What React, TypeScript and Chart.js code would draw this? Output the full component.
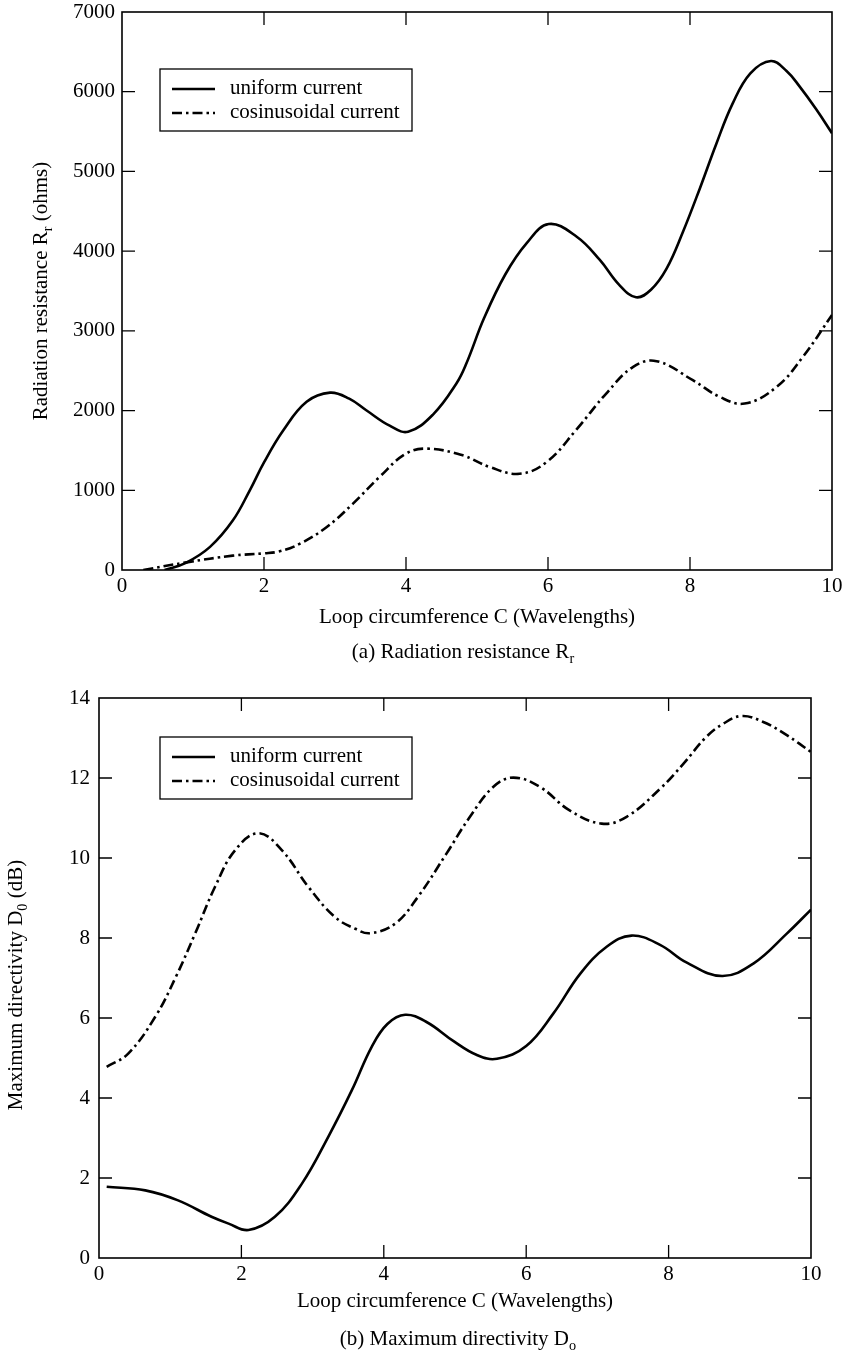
import React, { useEffect, useRef } from "react";
import { Chart, registerables } from "chart.js";
Chart.register(...registerables);

const FONT = '"Liberation Serif", "Times New Roman", Times, serif';

// ---- (a) Radiation resistance data ----
const xTicksA = [0, 2, 4, 6, 8, 10];
const rUniformX = [0.6, 0.9, 1.24, 1.56, 1.8, 2.0, 2.27, 2.6, 2.93, 3.2, 3.44, 3.77, 4.03, 4.38, 4.71, 4.85, 5.1, 5.4, 5.7, 6.01, 6.4, 6.73, 7.0, 7.24, 7.45, 7.67, 7.9, 8.14, 8.37, 8.6, 8.85, 9.14, 9.36, 9.54, 9.78, 10.0];
const rUniformY = [0, 90, 290, 620, 1000, 1350, 1750, 2110, 2225, 2150, 2004, 1810, 1735, 1950, 2340, 2590, 3160, 3710, 4100, 4340, 4184, 3890, 3580, 3421, 3515, 3780, 4240, 4790, 5345, 5850, 6230, 6385, 6260, 6070, 5777, 5480];
const rCosX = [0.3, 0.91, 1.56, 2.0, 2.22, 2.5, 2.88, 3.25, 3.63, 4.0, 4.3, 4.8, 5.18, 5.6, 5.98, 6.4, 6.82, 7.2, 7.53, 8.04, 8.42, 8.77, 9.22, 9.59, 10.0];
const rCosY = [0, 96, 180, 209, 234, 327, 536, 830, 1170, 1460, 1522, 1438, 1291, 1207, 1354, 1761, 2214, 2548, 2620, 2381, 2171, 2088, 2297, 2674, 3200];

// ---- (b) Maximum directivity data ----
const dUniformX = [0.108, 0.65, 1.11, 1.58, 1.82, 2.1, 2.47, 2.85, 3.22, 3.55, 3.83, 4.05, 4.3, 4.6, 4.98, 5.3, 5.59, 6.0, 6.38, 6.76, 7.13, 7.48, 7.88, 8.25, 8.75, 9.19, 9.66, 10.0];
const dUniformY = [1.78, 1.69, 1.44, 1.03, 0.86, 0.7, 1.03, 1.86, 3.03, 4.19, 5.28, 5.85, 6.08, 5.9, 5.42, 5.08, 4.98, 5.3, 6.11, 7.11, 7.78, 8.06, 7.83, 7.39, 7.05, 7.36, 8.11, 8.71];
const dCosX = [0.108, 0.41, 0.79, 1.08, 1.35, 1.63, 1.91, 2.24, 2.57, 2.94, 3.31, 3.6, 3.81, 4.16, 4.48, 4.88, 5.21, 5.54, 5.82, 6.19, 6.61, 7.06, 7.41, 7.88, 8.21, 8.53, 8.77, 9.03, 9.33, 9.66, 10.0];
const dCosY = [4.78, 5.11, 6.03, 7.03, 8.11, 9.28, 10.19, 10.62, 10.19, 9.28, 8.53, 8.23, 8.12, 8.36, 9.03, 10.11, 11.03, 11.78, 12.01, 11.78, 11.19, 10.86, 11.03, 11.73, 12.36, 13.03, 13.36, 13.55, 13.4, 13.07, 12.65];

const seriesLabels = ["uniform current", "cosinusoidal current"];
const xTitle = "Loop circumference C (Wavelengths)";

type Part = { t: string; sub?: boolean };

const DASHDOT = [10, 4, 2.5, 4];

function drawRich(ctx: CanvasRenderingContext2D, parts: Part[], x: number, y: number, size: number) {
  let total = 0;
  const widths = parts.map((p) => {
    ctx.font = `${p.sub ? size * 0.68 : size}px ${FONT}`;
    const w = ctx.measureText(p.t).width;
    total += w;
    return w;
  });
  let cx = x - total / 2;
  ctx.textAlign = "left";
  ctx.textBaseline = "alphabetic";
  parts.forEach((p, i) => {
    ctx.font = `${p.sub ? size * 0.68 : size}px ${FONT}`;
    ctx.fillText(p.t, cx, y + (p.sub ? size * 0.24 : 0));
    cx += widths[i];
  });
}

type Deco = {
  yTitle: Part[];
  yTitleX: number;
  yTitleCY: number;
  xTitleY: number;
  caption: Part[];
  captionX: number;
  captionY: number;
  legendDX: number;
  legendDY: number;
};

function makePlugin(d: Deco) {
  return {
    id: "deco",
    afterDraw(chart: any) {
      const ctx: CanvasRenderingContext2D = chart.ctx;
      const { left, right, top, bottom } = chart.chartArea;
      ctx.save();
      ctx.strokeStyle = "#000";
      ctx.fillStyle = "#000";
      // frame
      ctx.lineWidth = 1.6;
      ctx.setLineDash([]);
      ctx.strokeRect(left, top, right - left, bottom - top);
      // inward ticks
      ctx.lineWidth = 1.3;
      const TL = 13;
      const xs = chart.scales.x;
      const ys = chart.scales.y;
      ctx.beginPath();
      xs.ticks.forEach((t: any) => {
        const px = xs.getPixelForValue(t.value);
        if (Math.abs(px - left) < 1 || Math.abs(px - right) < 1) return;
        ctx.moveTo(px, bottom);
        ctx.lineTo(px, bottom - TL);
        ctx.moveTo(px, top);
        ctx.lineTo(px, top + TL);
      });
      ys.ticks.forEach((t: any) => {
        const py = ys.getPixelForValue(t.value);
        if (Math.abs(py - top) < 1 || Math.abs(py - bottom) < 1) return;
        ctx.moveTo(left, py);
        ctx.lineTo(left + TL, py);
        ctx.moveTo(right, py);
        ctx.lineTo(right - TL, py);
      });
      ctx.stroke();

      // legend
      const bx = left + d.legendDX;
      const by = top + d.legendDY;
      ctx.lineWidth = 1.3;
      ctx.strokeRect(bx, by, 252, 62);
      chart.data.datasets.forEach((ds: any, i: number) => {
        const ly = by + 20 + 24 * i;
        ctx.lineWidth = ds.borderWidth;
        ctx.setLineDash(ds.borderDash || []);
        ctx.beginPath();
        ctx.moveTo(bx + 12, ly);
        ctx.lineTo(bx + 55, ly);
        ctx.stroke();
        ctx.setLineDash([]);
        ctx.font = `21px ${FONT}`;
        ctx.textAlign = "left";
        ctx.textBaseline = "alphabetic";
        ctx.fillText(ds.label, bx + 70, ly + 4.5);
      });

      // x title
      ctx.font = `21px ${FONT}`;
      ctx.textAlign = "center";
      ctx.textBaseline = "alphabetic";
      ctx.fillText(xTitle, (left + right) / 2, d.xTitleY);
      // caption
      drawRich(ctx, d.caption, d.captionX, d.captionY, 21);
      // y title rotated
      ctx.save();
      ctx.translate(d.yTitleX, d.yTitleCY);
      ctx.rotate(-Math.PI / 2);
      drawRich(ctx, d.yTitle, 0, 0, 21);
      ctx.restore();
      ctx.restore();
    },
  };
}

function buildConfig(
  ux: number[], uy: number[], cx: number[], cy: number[],
  yMax: number, yStep: number, yWidth: number, yPad: number,
  padding: any, deco: Deco
) {
  const tickFont = { family: FONT, size: 21, lineHeight: 1 };
  return {
    type: "line" as const,
    data: {
      datasets: [
        {
          label: seriesLabels[0],
          data: ux.map((x, i) => ({ x, y: uy[i] })),
          borderColor: "#000",
          borderWidth: 2.6,
          pointRadius: 0,
          fill: false,
          tension: 0.4,
        },
        {
          label: seriesLabels[1],
          data: cx.map((x, i) => ({ x, y: cy[i] })),
          borderColor: "#000",
          borderWidth: 2.6,
          borderDash: DASHDOT,
          pointRadius: 0,
          fill: false,
          tension: 0.4,
        },
      ],
    },
    options: {
      responsive: false,
      animation: false as const,
      layout: { padding },
      plugins: { legend: { display: false }, tooltip: { enabled: false }, title: { display: false } },
      scales: {
        x: {
          type: "linear" as const,
          min: 0,
          max: 10,
          afterBuildTicks: (s: any) => { s.ticks = xTicksA.map((v) => ({ value: v })); },
          ticks: { font: tickFont, color: "#000", padding: 6, maxRotation: 0, autoSkip: false, callback: (v: any) => String(v) },
          grid: { display: false, drawTicks: false },
          border: { display: false },
          afterFit: (s: any) => { s.height = 40; s.paddingLeft = 0; s.paddingRight = 0; },
        },
        y: {
          type: "linear" as const,
          min: 0,
          max: yMax,
          ticks: { stepSize: yStep, font: tickFont, color: "#000", padding: yPad, autoSkip: false, callback: (v: any) => String(v) },
          grid: { display: false, drawTicks: false },
          border: { display: false },
          afterFit: (s: any) => { s.width = yWidth; s.paddingTop = 0; s.paddingBottom = 0; },
        },
      },
    },
    plugins: [makePlugin(deco)],
  };
}

export default function App() {
  const refA = useRef<HTMLCanvasElement>(null);
  const refB = useRef<HTMLCanvasElement>(null);

  useEffect(() => {
    const a = new Chart(
      refA.current as HTMLCanvasElement,
      buildConfig(
        rUniformX, rUniformY, rCosX, rCosY,
        7000, 1000, 122, 7,
        { left: 0, top: 12, right: 11, bottom: 70 },
        {
          yTitle: [{ t: "Radiation resistance R" }, { t: "r", sub: true }, { t: " (ohms)" }],
          yTitleX: 47,
          yTitleCY: 291,
          xTitleY: 623,
          caption: [{ t: "(a) Radiation resistance R" }, { t: "r", sub: true }],
          captionX: 463,
          captionY: 658,
          legendDX: 38,
          legendDY: 57,
        }
      ) as any
    );
    const b = new Chart(
      refB.current as HTMLCanvasElement,
      buildConfig(
        dUniformX, dUniformY, dCosX, dCosY,
        14, 2, 99, 9,
        { left: 0, top: 18, right: 32, bottom: 55 },
        {
          yTitle: [{ t: "Maximum directivity D" }, { t: "0", sub: true }, { t: " (dB)" }],
          yTitleX: 22,
          yTitleCY: 305,
          xTitleY: 627,
          caption: [{ t: "(b) Maximum directivity D" }, { t: "o", sub: true }],
          captionX: 458,
          captionY: 665,
          legendDX: 61,
          legendDY: 39,
        }
      ) as any
    );
    return () => {
      a.destroy();
      b.destroy();
    };
  }, []);

  return (
    <div style={{ position: "absolute", left: 0, top: 0, width: 843, height: 1353, background: "#fff" }}>
      <canvas ref={refA} width={843} height={680} style={{ position: "absolute", left: 0, top: 0 }} />
      <canvas ref={refB} width={843} height={673} style={{ position: "absolute", left: 0, top: 680 }} />
    </div>
  );
}
